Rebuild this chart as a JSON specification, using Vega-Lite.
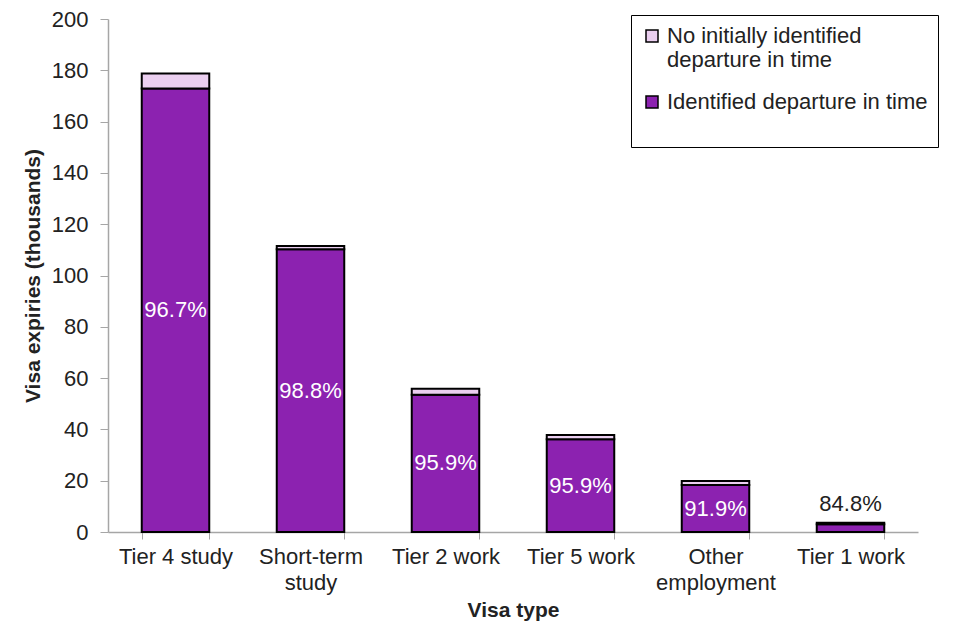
{
  "$schema": "https://vega.github.io/schema/vega-lite/v6.json",
  "width": 810,
  "height": 513,
  "autosize": {"type": "none"},
  "padding": {"left": 108, "top": 19, "right": 42, "bottom": 108},
  "background": "white",
  "config": {
    "font": "Liberation Sans",
    "view": {"stroke": null}
  },
  "data": {
    "values": [
      {"visa": "Tier 4 study", "status": "Identified departure in time", "order": 1, "value": 172.9, "pct": "96.7%"},
      {"visa": "Tier 4 study", "status": "No initially identified departure in time", "order": 2, "value": 5.9, "pct": ""},
      {"visa": "Short-term study", "status": "Identified departure in time", "order": 1, "value": 110.2, "pct": "98.8%"},
      {"visa": "Short-term study", "status": "No initially identified departure in time", "order": 2, "value": 1.3, "pct": ""},
      {"visa": "Tier 2 work", "status": "Identified departure in time", "order": 1, "value": 53.5, "pct": "95.9%"},
      {"visa": "Tier 2 work", "status": "No initially identified departure in time", "order": 2, "value": 2.3, "pct": ""},
      {"visa": "Tier 5 work", "status": "Identified departure in time", "order": 1, "value": 36.2, "pct": "95.9%"},
      {"visa": "Tier 5 work", "status": "No initially identified departure in time", "order": 2, "value": 1.6, "pct": ""},
      {"visa": "Other employment", "status": "Identified departure in time", "order": 1, "value": 18.3, "pct": "91.9%"},
      {"visa": "Other employment", "status": "No initially identified departure in time", "order": 2, "value": 1.6, "pct": ""},
      {"visa": "Tier 1 work", "status": "Identified departure in time", "order": 1, "value": 3.05, "pct": "84.8%"},
      {"visa": "Tier 1 work", "status": "No initially identified departure in time", "order": 2, "value": 0.55, "pct": ""}
    ]
  },
  "encoding": {
    "x": {
      "field": "visa",
      "type": "nominal",
      "sort": ["Tier 4 study", "Short-term study", "Tier 2 work", "Tier 5 work", "Other employment", "Tier 1 work"],
      "scale": {"paddingInner": 0.5, "paddingOuter": 0.25},
      "axis": {
        "title": "Visa type",
        "titleFontSize": 21,
        "titleFontWeight": "bold",
        "titleColor": "#222222",
        "titlePadding": 6,
        "labelAngle": 0,
        "labelFontSize": 22,
        "labelColor": "#222222",
        "labelPadding": 7,
        "labelLineHeight": 26,
        "labelExpr": "datum.label == 'Short-term study' ? ['Short-term', 'study'] : datum.label == 'Other employment' ? ['Other', 'employment'] : datum.label",
        "tickBand": "extent",
        "tickSize": 7,
        "tickColor": "#A6A6A6",
        "domainColor": "#A6A6A6",
        "domainWidth": 1.5
      }
    }
  },
  "layer": [
    {
      "mark": {"type": "bar", "stroke": "#000000", "strokeWidth": 2},
      "encoding": {
        "y": {
          "field": "value",
          "type": "quantitative",
          "stack": "zero",
          "scale": {"domain": [0, 200], "nice": false},
          "axis": {
            "title": "Visa expiries (thousands)",
            "titleFontSize": 21,
            "titleFontWeight": "bold",
            "titleColor": "#222222",
            "titlePadding": 8,
            "values": [0, 20, 40, 60, 80, 100, 120, 140, 160, 180, 200],
            "grid": false,
            "labelFontSize": 22,
            "labelColor": "#222222",
            "labelPadding": 12,
            "tickSize": 8,
            "tickColor": "#A6A6A6",
            "domainColor": "#A6A6A6",
            "domainWidth": 1.5
          }
        },
        "order": {"field": "order", "type": "quantitative", "sort": "ascending"},
        "color": {
          "field": "status",
          "type": "nominal",
          "scale": {
            "domain": ["No initially identified departure in time", "Identified departure in time"],
            "range": ["#EBCFF0", "#8C22B0"]
          },
          "legend": {
            "title": null,
            "orient": "none",
            "legendX": 523,
            "legendY": -4,
            "strokeColor": "#000000",
            "fillColor": "#ffffff",
            "padding": 10,
            "labelFontSize": 22,
            "labelColor": "#222222",
            "labelLimit": 400,
            "labelOffset": 4,
            "rowPadding": 20,
            "symbolType": "square",
            "symbolSize": 144,
            "symbolStrokeColor": "#000000",
            "symbolStrokeWidth": 1.5,
            "symbolOpacity": 1,
            "labelExpr": "datum.label == 'No initially identified departure in time' ? ['No initially identified', 'departure in time'] : [datum.label, ' ']"
          }
        }
      }
    },
    {
      "transform": [
        {"filter": "datum.order == 1 && datum.visa != 'Tier 1 work'"},
        {"calculate": "datum.value / 2", "as": "mid"}
      ],
      "mark": {"type": "text", "color": "#ffffff", "fontSize": 22, "baseline": "middle"},
      "encoding": {
        "y": {"field": "mid", "type": "quantitative"},
        "text": {"field": "pct"}
      }
    },
    {
      "transform": [
        {"filter": "datum.visa == 'Tier 1 work'"},
        {"joinaggregate": [{"op": "sum", "field": "value", "as": "total"}], "groupby": ["visa"]},
        {"filter": "datum.order == 1"}
      ],
      "mark": {"type": "text", "color": "#222222", "fontSize": 22, "baseline": "middle", "dy": -19},
      "encoding": {
        "y": {"field": "total", "type": "quantitative"},
        "text": {"field": "pct"}
      }
    }
  ]
}
